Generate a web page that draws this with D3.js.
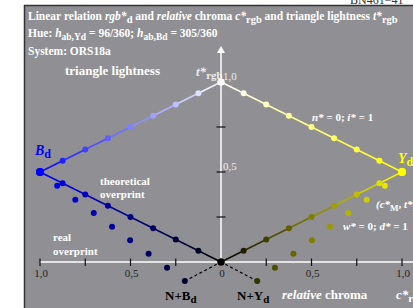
<!DOCTYPE html>
<html>
<head>
<meta charset="utf-8">
<script src="https://cdn.jsdelivr.net/npm/d3@7"></script>
<style>
  html, body { margin: 0; padding: 0; background: #fff; }
  svg { display: block; font-family: "Liberation Serif", "Times New Roman", serif; }
</style>
</head>
<body>
<svg id="chart"></svg>
<script>
// theoretical points along the triangle sides (relative chroma c*, triangle lightness t*)
const chromaSteps = [0, 0.125, 0.25, 0.375, 0.5, 0.625, 0.75, 0.875, 1.0];
const upperT = [1.0, 0.9375, 0.875, 0.8125, 0.75, 0.6875, 0.625, 0.5625, 0.5];
const lowerT = [0, 0.0625, 0.125, 0.1875, 0.25, 0.3125, 0.375, 0.4375, 0.5];

// measured (real) overprint points
const realC = [0.905, 0.805, 0.703, 0.602, 0.502, 0.4, 0.298, 0.2];
const realT = [0.424, 0.346, 0.272, 0.196, 0.121, 0.046, -0.032, -0.106];

const xTicks = [-1, -0.75, -0.5, -0.25, 0.25, 0.5, 0.75, 1];
const xLabels = [[-1, "1,0"], [-0.5, "0,5"], [0, "0"], [0.5, "0,5"], [1, "1,0"]];
const yTicks = [0.25, 0.5, 0.75];
const yLabels = [[1, "1,0"], [0.5, "0,5"]];

const W = 413, H = 308;
const svg = d3.select("#chart").attr("width", W).attr("height", H);

const x = d3.scaleLinear().domain([-1, 1]).range([40, 402]);
const y = d3.scaleLinear().domain([0, 1]).range([262, 82]);

const blueUp = d3.interpolateRgb("#ffffff", "#0000ff");
const blueDown = d3.interpolateRgb("#000000", "#0000ff");
const yellowUp = d3.interpolateRgb("#ffffff", "#ffff00");
const yellowDown = d3.interpolateRgb("#000000", "#ffff00");

// panel
svg.append("text").attr("x", 350).attr("y", 4).attr("font-size", 12).attr("fill", "#333")
  .text("BN461−41");
svg.append("rect").attr("x", 25).attr("y", 6).attr("width", W).attr("height", H)
  .attr("fill", "#909094");
svg.append("line").attr("x1", 24.5).attr("x2", 24.5).attr("y1", 5).attr("y2", H)
  .attr("stroke", "#333").attr("stroke-width", 1.5);
svg.append("line").attr("x1", 24).attr("x2", W).attr("y1", 5.5).attr("y2", 5.5)
  .attr("stroke", "#333").attr("stroke-width", 1.5);

// rich text helper: parts with italic / subscript
function rich(px, py, parts, o) {
  const t = svg.append("text").attr("x", px).attr("y", py)
    .attr("font-size", o.size).attr("font-weight", "bold").attr("fill", o.fill);
  if (o.anchor) t.attr("text-anchor", o.anchor);
  let shift = 0;
  parts.forEach(p => {
    const target = p.sub ? 3 : 0;
    const ts = t.append("tspan").attr("dy", target - shift).text(p.t);
    if (p.i) ts.attr("font-style", "italic");
    if (p.sub) ts.attr("font-size", o.sub || o.size * 0.85);
    shift = target;
  });
  return t;
}

// titles
rich(28, 19.5, [{t: "Linear relation "}, {t: "rgb*", i: true}, {t: "d", sub: true},
  {t: " and "}, {t: "relative", i: true}, {t: " chroma "}, {t: "c*", i: true}, {t: "rgb", sub: true},
  {t: " and triangle lightness "}, {t: "t*", i: true}, {t: "rgb", sub: true}], {size: 11.5, fill: "#fff", sub: 10.5});
rich(28, 37, [{t: "Hue: "}, {t: "h", i: true}, {t: "ab,Yd", sub: true}, {t: " = 96/360; "},
  {t: "h", i: true}, {t: "ab,Bd", sub: true}, {t: " = 305/360"}], {size: 11.5, fill: "#fff", sub: 9.5});
rich(28, 54.5, [{t: "System: ORS18a"}], {size: 11.5, fill: "#fff"});

// axes
const g = svg.append("g");
g.append("line").attr("x1", x(-1)).attr("x2", W + 2).attr("y1", y(0)).attr("y2", y(0))
  .attr("stroke", "#fff").attr("stroke-width", 1.5);
g.append("line").attr("x1", x(0)).attr("x2", x(0)).attr("y1", y(0)).attr("y2", 50)
  .attr("stroke", "#fff").attr("stroke-width", 1.5);
g.append("path").attr("d", `M${x(0)},46 L${x(0) - 4},53 L${x(0) + 4},53 Z`).attr("fill", "#fff");

g.selectAll(".xt").data(xTicks).join("line")
  .attr("x1", d => x(d)).attr("x2", d => x(d)).attr("y1", y(0) - 3.5).attr("y2", y(0) + 4)
  .attr("stroke", "#111").attr("stroke-width", 1.2);
g.selectAll(".yt").data(yTicks).join("line")
  .attr("x1", x(0) - 4.5).attr("x2", x(0) + 4.5).attr("y1", d => y(d)).attr("y2", d => y(d))
  .attr("stroke", "#111").attr("stroke-width", 1.2);

g.selectAll(".xl").data(xLabels).join("text")
  .attr("x", d => x(d[0]) + 1).attr("y", 277).attr("text-anchor", "middle")
  .attr("font-size", 11).attr("fill", "#222").text(d => d[1]);
g.selectAll(".yl").data(yLabels).join("text")
  .attr("x", x(0) + 2).attr("y", d => y(d[0]) - 2)
  .attr("font-size", 11).attr("fill", "#eee").text(d => d[1]);

// theoretical sides
function side(sign, tArr, color) {
  const pts = chromaSteps.map((c, i) => ({c, t: tArr[i]}));
  const segs = d3.pairs(pts);
  svg.append("g").selectAll("line").data(segs).join("line")
    .attr("x1", d => x(sign * d[0].c)).attr("y1", d => y(d[0].t))
    .attr("x2", d => x(sign * d[1].c)).attr("y2", d => y(d[1].t))
    .attr("stroke", d => color((d[0].c + d[1].c) / 2)).attr("stroke-width", 1.5);
  return pts;
}
const sides = [
  {pts: side(-1, upperT, blueUp), sign: -1, color: blueUp},
  {pts: side(1, upperT, yellowUp), sign: 1, color: yellowUp},
  {pts: side(-1, lowerT, blueDown), sign: -1, color: blueDown},
  {pts: side(1, lowerT, yellowDown), sign: 1, color: yellowDown}
];

// dashed links from last real point to origin
[-1, 1].forEach(s => {
  svg.append("line")
    .attr("x1", x(s * realC[realC.length - 1])).attr("y1", y(realT[realT.length - 1]))
    .attr("x2", x(0)).attr("y2", y(0))
    .attr("stroke", "#000").attr("stroke-width", 1.2).attr("stroke-dasharray", "3,2.5");
});

// real overprint dots
[[-1, blueDown], [1, yellowDown]].forEach(([s, col]) => {
  svg.append("g").selectAll("circle").data(realC.map((c, i) => ({c, t: realT[i]}))).join("circle")
    .attr("cx", d => x(s * d.c)).attr("cy", d => y(d.t)).attr("r", 3)
    .attr("fill", d => col(d.c));
});

// theoretical dots
sides.forEach(sd => {
  svg.append("g").selectAll("circle").data(sd.pts).join("circle")
    .attr("cx", d => x(sd.sign * d.c)).attr("cy", d => y(d.t))
    .attr("r", d => (d.c === 1 ? 4 : d.c === 0 ? 3.5 : 3))
    .attr("fill", d => sd.color(d.c));
});

// labels
rich(65, 75, [{t: "triangle lightness"}], {size: 13, fill: "#fff"});
rich(196, 76, [{t: "t*", i: true}, {t: "rgb", sub: true}], {size: 13, fill: "#eee", sub: 11});
rich(35, 155, [{t: "B", i: true}, {t: "d", sub: true}], {size: 14, fill: "#0000ff", sub: 12});
rich(398, 163, [{t: "Y", i: true}, {t: "d", sub: true}], {size: 14, fill: "#ffff00", sub: 12});
rich(312, 121, [{t: "n*", i: true}, {t: " = 0; "}, {t: "i*", i: true}, {t: " = 1"}], {size: 11, fill: "#fff"});
rich(100, 185, [{t: "theoretical"}], {size: 11, fill: "#fff"});
rich(100, 198, [{t: "overprint"}], {size: 11, fill: "#fff"});
rich(53, 241, [{t: "real"}], {size: 11, fill: "#fff"});
rich(53, 255, [{t: "overprint"}], {size: 11, fill: "#fff"});
rich(376, 208, [{t: "(c*", i: true}, {t: "M", sub: true}, {t: ", "}, {t: "t*", i: true}, {t: "M", sub: true}, {t: ")"}], {size: 11, fill: "#fff", sub: 9});
rich(343, 230, [{t: "w*", i: true}, {t: " = 0; "}, {t: "d*", i: true}, {t: " = 1"}], {size: 11, fill: "#fff"});
rich(165, 300, [{t: "N+B"}, {t: "d", sub: true}], {size: 13, fill: "#000", sub: 11});
rich(237, 300, [{t: "N+Y"}, {t: "d", sub: true}], {size: 13, fill: "#000", sub: 11});
rich(282, 299, [{t: "relative", i: true}, {t: " chroma"}], {size: 13, fill: "#fff"});
rich(396, 299, [{t: "c*", i: true}, {t: "rgb", sub: true}], {size: 13, fill: "#fff", sub: 11});
</script>
</body>
</html>
